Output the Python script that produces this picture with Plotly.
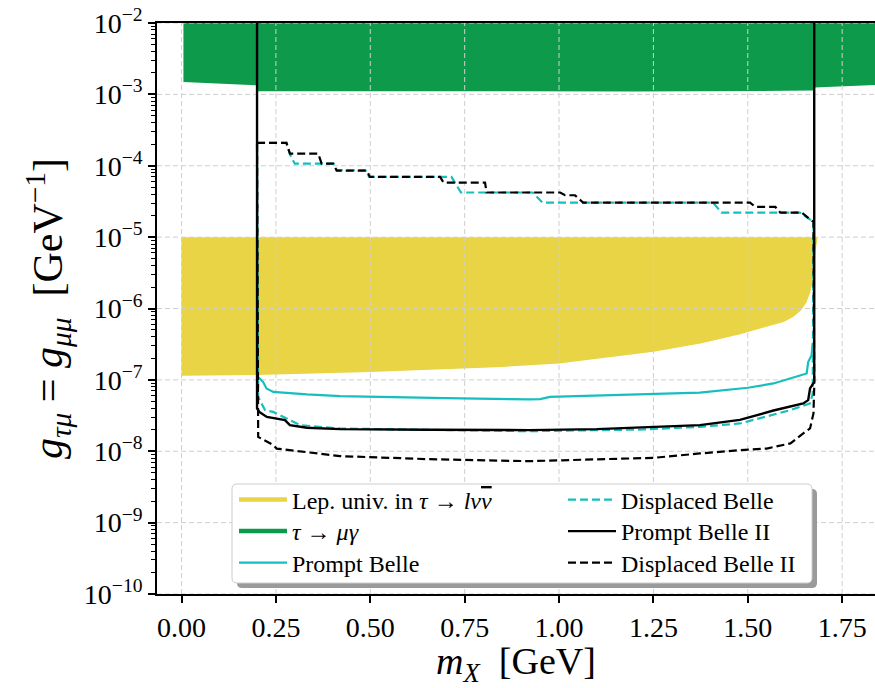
import plotly.graph_objects as go

# ---------------- data ----------------
# Lepton universality band (tau -> l nu nubar): lower edge, top fixed at 1e-5
lep_x = [0.0, 0.2, 0.5, 0.85, 1.0, 1.25, 1.375, 1.48, 1.54, 1.595, 1.62, 1.64,
         1.655, 1.665, 1.672, 1.678, 1.685]
lep_lo = [1.14e-7, 1.17e-7, 1.29e-7, 1.52e-7, 1.70e-7, 2.47e-7, 3.24e-7, 4.37e-7,
          5.37e-7, 6.46e-7, 7.59e-7, 9.33e-7, 1.20e-6, 1.66e-6, 2.34e-6, 5.6e-6, 1e-5]
lep_hi = 1e-5

# tau -> mu gamma: lower edge, region extends above the plot
tmg_x = [0.005, 0.1, 0.2, 0.2, 0.6, 1.2, 1.6, 1.676, 1.676, 1.75, 1.84]
tmg_lo = [1.49e-3, 1.41e-3, 1.34e-3, 1.11e-3, 1.10e-3, 1.10e-3, 1.12e-3, 1.135e-3,
          1.245e-3, 1.30e-3, 1.355e-3]
tmg_hi = 1e-2

# Prompt Belle
pb_x = [0.2, 0.203, 0.216, 0.225, 0.243, 0.332, 0.42, 0.5, 0.7, 0.92, 0.95, 0.976,
        1.25, 1.373, 1.5, 1.568, 1.656, 1.66, 1.669, 1.672]
pb_y = [1.17e-7, 1.10e-7, 9.38e-8, 7.59e-8, 6.79e-8, 6.25e-8, 5.92e-8, 5.78e-8,
        5.55e-8, 5.32e-8, 5.37e-8, 5.78e-8, 6.31e-8, 6.61e-8, 7.76e-8, 8.91e-8,
        1.23e-7, 1.78e-7, 2.22e-7, 3.24e-7]

# Displaced Belle (closed contour)
db_x = [0.2, 0.278, 0.288, 0.300, 0.402, 0.411, 0.487, 0.497, 0.715, 0.74, 0.93,
        0.956, 1.408, 1.43, 1.638, 1.674, 1.672, 1.665, 1.613, 1.479, 1.373, 1.223,
        0.92, 0.7, 0.42, 0.314, 0.278, 0.243, 0.221, 0.203, 0.2]
db_y = [2.09e-4, 2.09e-4, 1.41e-4, 1.07e-4, 1.07e-4, 8.65e-5, 8.65e-5, 6.97e-5,
        6.97e-5, 4.22e-5, 4.22e-5, 3.05e-5, 3.05e-5, 2.21e-5, 2.21e-5, 1.63e-5,
        6.46e-8, 4.68e-8, 3.77e-8, 2.45e-8, 2.20e-8, 2.02e-8, 1.91e-8, 1.98e-8,
        2.08e-8, 2.32e-8, 2.88e-8, 3.56e-8, 3.77e-8, 5.78e-8, 2.09e-4]

# Prompt Belle II (open at the top)
pb2_x = [0.2, 0.2, 0.206, 0.226, 0.274, 0.287, 0.332, 0.42, 0.65, 0.92, 1.1, 1.223,
         1.373, 1.479, 1.568, 1.647, 1.66, 1.665, 1.676, 1.676]
pb2_y = [1.3e-2, 3.98e-8, 3.56e-8, 3.03e-8, 2.73e-8, 2.32e-8, 2.13e-8, 2.04e-8,
         2.00e-8, 1.98e-8, 2.04e-8, 2.15e-8, 2.32e-8, 2.75e-8, 3.72e-8, 4.68e-8,
         5.20e-8, 7.59e-8, 9.38e-8, 1.3e-2]

# Displaced Belle II (closed contour)
db2_x = [0.2, 0.278, 0.287, 0.362, 0.371, 0.402, 0.411, 0.49, 0.499, 0.685, 0.694,
         0.804, 0.808, 1.003, 1.016, 1.042, 1.064, 1.506, 1.52, 1.573, 1.586, 1.643,
         1.674, 1.676, 1.674, 1.665, 1.647, 1.613, 1.55, 1.479, 1.373, 1.25, 0.92,
         0.65, 0.42, 0.332, 0.252, 0.243, 0.203, 0.2]
db2_y = [2.09e-4, 2.09e-4, 1.48e-4, 1.48e-4, 1.07e-4, 1.07e-4, 8.57e-5, 8.57e-5,
         6.97e-5, 6.97e-5, 5.82e-5, 5.82e-5, 4.22e-5, 4.22e-5, 3.86e-5, 3.86e-5,
         3.05e-5, 3.05e-5, 2.65e-5, 2.65e-5, 2.21e-5, 2.21e-5, 1.63e-5, 7.98e-8,
         3.39e-8, 2.09e-8, 1.78e-8, 1.29e-8, 1.09e-8, 1.035e-8, 9.31e-9, 8.09e-9,
         7.26e-9, 7.76e-9, 8.55e-9, 9.82e-9, 1.09e-8, 1.22e-8, 1.59e-8, 2.09e-4]

x_ticks = [0.0, 0.25, 0.5, 0.75, 1.0, 1.25, 1.5, 1.75]
y_ticks = [1e-10, 1e-9, 1e-8, 1e-7, 1e-6, 1e-5, 1e-4, 1e-3, 1e-2]
y_exponents = ["−10", "−9", "−8", "−7", "−6", "−5", "−4", "−3", "−2"]
y_minor = [m * d for d in y_ticks[:-1] for m in range(2, 10)]

# ---------------- style ----------------
YELLOW = "#E8D444"
GREEN = "#0D9A4A"
CYAN = "#17BEBE"
BLACK = "#000000"
FONT = "Liberation Serif"
X_RANGE = [-0.065, 1.837]
Y_RANGE = [-10, -2]

PL, PR, PT, PB = 157, 875, 23, 594
W, H = PR - PL, PB - PT


def px2paper(px, py):
    return (px - PL) / W, (PB - py) / H


fig = go.Figure()

# filled regions
fig.add_trace(go.Scatter(
    x=lep_x + lep_x[::-1], y=lep_lo + [lep_hi] * len(lep_x),
    fill="toself", fillcolor=YELLOW, line=dict(width=0), mode="lines",
    showlegend=False, hoverinfo="skip"))
fig.add_trace(go.Scatter(
    x=tmg_x + tmg_x[::-1], y=tmg_lo + [tmg_hi] * len(tmg_x),
    fill="toself", fillcolor=GREEN, line=dict(width=0), mode="lines",
    showlegend=False, hoverinfo="skip"))

# grid (above patches, below lines, like matplotlib)
gx, gy = [], []
for xv in x_ticks:
    gx += [xv, xv, None]
    gy += [y_ticks[0], y_ticks[-1], None]
for yv in y_ticks:
    gx += [X_RANGE[0], X_RANGE[1], None]
    gy += [yv, yv, None]
fig.add_trace(go.Scatter(x=gx, y=gy, mode="lines",
                         line=dict(color="#cfcfcf", width=1, dash="5px,3px"),
                         showlegend=False, hoverinfo="skip"))

DASH = "8px,4px"
fig.add_trace(go.Scatter(x=pb_x, y=pb_y, mode="lines", name="Prompt Belle",
                         line=dict(color=CYAN, width=2.2), legend="legend3"))
fig.add_trace(go.Scatter(x=db_x, y=db_y, mode="lines", name="Displaced Belle",
                         line=dict(color=CYAN, width=2.2, dash=DASH),
                         legend="legend4"))
fig.add_trace(go.Scatter(x=pb2_x, y=pb2_y, mode="lines", name="Prompt Belle II",
                         line=dict(color=BLACK, width=2.4), legend="legend5"))
fig.add_trace(go.Scatter(x=db2_x, y=db2_y, mode="lines", name="Displaced Belle II",
                         line=dict(color=BLACK, width=2.2, dash=DASH),
                         legend="legend6"))

# legend-only entries for the filled regions
fig.add_trace(go.Scatter(
    x=[None], y=[None], mode="lines",
    name="Lep. univ. in <i>τ</i> → <i>lν</i><span style=\"text-decoration:overline\"><i>ν</i></span>",
    line=dict(color=YELLOW, width=4.5), legend="legend"))
fig.add_trace(go.Scatter(x=[None], y=[None], mode="lines",
                         name="<i>τ</i> → <i>μγ</i>",
                         line=dict(color=GREEN, width=4.5), legend="legend2"))


def rounded(x0p, y0p, x1p, y1p, r=5):
    x0, y1 = px2paper(x0p, y0p)
    x1, y0 = px2paper(x1p, y1p)
    rx, ry = r / W, r / H
    return (f"M {x0+rx},{y1} L {x1-rx},{y1} Q {x1},{y1} {x1},{y1-ry} "
            f"L {x1},{y0+ry} Q {x1},{y0} {x1-rx},{y0} L {x0+rx},{y0} "
            f"Q {x0},{y0} {x0},{y0+ry} L {x0},{y1-ry} Q {x0},{y1} {x0+rx},{y1} Z")


fig.add_shape(type="path", path=rounded(237, 489, 817, 588), xref="paper",
              yref="paper", fillcolor="#9a9a9a", line=dict(width=0), layer="above")
fig.add_shape(type="path", path=rounded(232, 484, 812, 583), xref="paper",
              yref="paper", fillcolor="white", line=dict(color="#cccccc", width=1),
              layer="above")

legend_common = dict(bgcolor="rgba(0,0,0,0)", borderwidth=0,
                     font=dict(family=FONT, size=24, color="black"),
                     xanchor="left", yanchor="middle", itemwidth=48)
col_px = [234, 563]
row_py = [500, 531.5, 563]
legends = {}
names = ["legend", "legend2", "legend3", "legend4", "legend5", "legend6"]
for i, nm in enumerate(names):
    c, r = divmod(i, 3)
    lx, ly = px2paper(col_px[c], row_py[r])
    legends[nm] = dict(x=lx, y=ly, **legend_common)

SP = "\u00a0"
fig.update_layout(
    template="none",
    width=875, height=688,
    margin=dict(l=PL, r=875 - PR, t=PT, b=688 - PB, autoexpand=False),
    paper_bgcolor="white", plot_bgcolor="white",
    font=dict(family=FONT, size=28, color="black"),
    xaxis=dict(range=X_RANGE, tickmode="array", tickvals=x_ticks,
               ticktext=[f"{v:.2f}" for v in x_ticks],
               ticks="outside", ticklen=7, tickwidth=1.5, tickcolor="black",
               showline=True, linecolor="black", linewidth=1.8, mirror=True,
               showgrid=False, zeroline=False, automargin=False,
               tickfont=dict(family=FONT, size=28),
               title=dict(text=f"{SP}{SP}{SP}<i>m</i><sub><i>X</i></sub>{SP}{SP}[GeV]",
                          font=dict(family=FONT, size=38), standoff=2)),
    yaxis=dict(type="log", range=Y_RANGE, tickmode="array", tickvals=y_ticks,
               ticktext=[f"10<sup>{e}</sup>" for e in y_exponents],
               ticks="outside", ticklen=7, tickwidth=1.5, tickcolor="black",
               minor=dict(tickmode="array", tickvals=y_minor, ticks="outside",
                          ticklen=4, tickwidth=1, tickcolor="black",
                          showgrid=False),
               showline=True, linecolor="black", linewidth=1.8, mirror=False,
               showgrid=False, zeroline=False, automargin=False,
               tickfont=dict(family=FONT, size=28),
               title=dict(text=(f"<i>g</i><sub><i>τμ</i></sub>{SP}={SP}"
                                f"<i>g</i><sub><i>μμ</i></sub>{SP}{SP}"
                                f"[GeV<sup>−1</sup>]"),
                          font=dict(family=FONT, size=42), standoff=8)),
    **legends,
)

fig.write_html("out.html", config={"displayModeBar": False},
               post_script="document.body.style.margin='0px';"
                           "document.body.style.padding='0px';")
